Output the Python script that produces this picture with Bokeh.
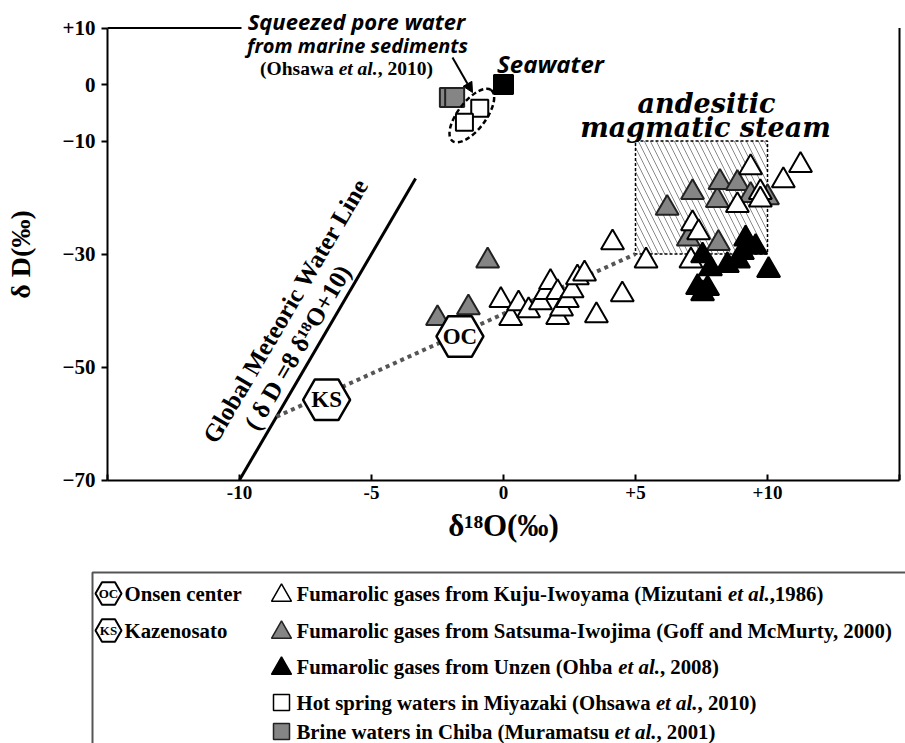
from bokeh.plotting import figure
from bokeh.models import Range1d, FixedTicker, Label, Arrow, NormalHead
from bokeh.embed import file_html
from bokeh.resources import INLINE
from bokeh.core.properties import value

# ---------------- data ----------------
kuju_x = [-0.1, 0.27, 0.57, 0.95, 1.4, 1.6, 1.78, 2.05, 2.05, 2.2, 2.42, 2.6, 2.8, 3.07,
          3.52, 4.13, 4.5, 5.4, 7.1, 7.16, 7.39, 8.86, 9.73, 9.73, 9.36, 10.6, 11.25]
kuju_y = [-38.2, -41.4, -38.8, -40.0, -38.6, -36.8, -35.0, -36.8, -41.2, -39.7, -38.2, -36.5, -34.2, -33.5,
          -40.9, -28.0, -37.2, -31.2, -31.2, -24.6, -26.2, -21.4, -19.1, -20.4, -14.7, -17.0, -14.3]
satsuma_x = [-2.5, -1.33, -0.6, 6.2, 7.0, 7.16, 8.1, 8.14, 8.2, 8.86, 9.36, 10.0]
satsuma_y = [-41.4, -39.5, -31.2, -21.9, -27.3, -19.1, -20.5, -28.1, -17.3, -17.5, -19.6, -20.0]
unzen_x = [7.54, 8.48, 7.84, 9.17, 9.55, 9.05, 8.9, 10.04, 7.35, 7.73, 7.54]
unzen_y = [-30.3, -32.0, -32.6, -27.3, -28.8, -29.7, -31.2, -32.9, -35.9, -36.1, -37.0]
miyazaki_x = [-0.9, -1.48]
miyazaki_y = [-4.2, -6.7]
chiba_x = [-2.05, -1.85]
chiba_y = [-2.3, -2.3]
seawater_x = [0.0]
seawater_y = [0.0]
site_x = [-1.65, -6.7]
site_y = [-44.6, -55.8]
site_codes = ["OC", "KS"]
site_names = ["Onsen center", "Kazenosato"]
mixing_x = [-8.6, 5.0]
mixing_y = [-58.8, -30.0]
gmwl_x = [-10.0, -3.33]
gmwl_y = [8 * v + 10 for v in gmwl_x]
steam_x = [5.0, 10.0]
steam_y = [-30.0, -10.0]
pore_center = (-1.2, -5.5)

x_lim = (-15, 15)
y_lim = (-70, 10)
x_ticks = [-15, -10, -5, 0, 5, 10, 15]
x_tick_labels = ["", "-10", "-5", "0", "+5", "+10", ""]
y_ticks = [10, 0, -10, -30, -50, -70]
y_tick_labels = ["+10", "0", "\u221210", "\u221230", "\u221250", "\u221270"]

# legend texts: (upright part, italic part, upright part)
legend_labels = [
    ("Fumarolic gases from Kuju-Iwoyama (Mizutani ", "et al.", ",1986)"),
    ("Fumarolic gases from Satsuma-Iwojima (Goff and McMurty, 2000)", "", ""),
    ("Fumarolic gases from Unzen (Ohba ", "et al.", ", 2008)"),
    ("Hot spring waters in Miyazaki (Ohsawa ", "et al.", ", 2010)"),
    ("Brine waters in Chiba (Muramatsu ", "et al.", ", 2001)"),
]
ref_label = ("(Ohsawa ", "et al.", ", 2010)")

SERIF = "Liberation Serif"
GRAY = "#858585"

# ---------------- text width helper (Liberation Serif metrics, per 1000 em) ----------------
_BOLD = dict(zip("abcdefghijklmnopqrstuvwxyz",
                 [500, 556, 444, 556, 444, 333, 500, 556, 278, 333, 556, 278, 833, 556, 500, 556,
                  556, 444, 389, 333, 556, 500, 722, 500, 500, 444]))
_BOLD.update(zip("ABCDEFGHIJKLMNOPQRSTUVWXYZ",
                 [722, 667, 722, 722, 667, 611, 778, 778, 389, 500, 778, 667, 944, 722, 778, 611,
                  778, 722, 556, 667, 722, 722, 1000, 722, 722, 667]))
_BOLD.update({c: 500 for c in "0123456789"})
_BOLD.update({" ": 250, "(": 333, ")": 333, ",": 250, ".": 250, "-": 333})
_BITAL = {"e": 444, "t": 278, " ": 250, "a": 500, "l": 278, ".": 250}


def text_w(s, size, italic=False):
    table = _BITAL if italic else _BOLD
    return sum(table.get(c, 500) for c in s) * size / 1000.0


# ---------------- canvas geometry (pixel -> data helpers for layout) ----------------
W, H = 905, 743
PX0, PXU = 503.0, 26.4     # pixel of x=0, pixels per x unit
PY0, PYU = 84.0, 5.65      # pixel of y=0, pixels per y unit


def X(px):
    return (px - PX0) / PXU


def Y(py):
    return (PY0 - py) / PYU


p = figure(width=W, height=H, x_range=Range1d(X(0), X(W)), y_range=Range1d(Y(H), Y(0)),
           output_backend="svg", toolbar_location=None, title=None,
           min_border=0, min_border_left=0, min_border_right=0,
           min_border_top=0, min_border_bottom=0)
p.grid.visible = False
p.outline_line_color = None
p.background_fill_color = "white"
p.border_fill_color = "white"

xa = p.xaxis[0]
xa.fixed_location = y_lim[0]
xa.bounds = x_lim
xa.ticker = FixedTicker(ticks=x_ticks)
xa.major_label_overrides = {t: l for t, l in zip(x_ticks, x_tick_labels)}
xa.major_tick_in = 6
xa.major_tick_out = 0
xa.minor_tick_line_color = None
xa.axis_line_width = 2
xa.major_tick_line_width = 2
xa.major_label_text_font = SERIF
xa.major_label_text_font_style = "bold"
xa.major_label_text_font_size = "19px"
xa.major_label_text_color = "black"
xa.major_label_standoff = 6
xa.axis_label = "\u03b4\u00b9\u2078O(\u2030)"
xa.axis_label_text_font = SERIF
xa.axis_label_text_font_style = "bold"
xa.axis_label_text_font_size = "31px"
xa.axis_label_text_color = "black"
xa.axis_label_standoff = 5

ya = p.yaxis[0]
ya.fixed_location = x_lim[0]
ya.bounds = y_lim
ya.ticker = FixedTicker(ticks=y_ticks)
ya.major_label_overrides = {t: l for t, l in zip(y_ticks, y_tick_labels)}
ya.major_tick_in = 0
ya.major_tick_out = 6
ya.minor_tick_line_color = None
ya.axis_line_width = 2
ya.major_tick_line_width = 2
ya.major_label_text_font = SERIF
ya.major_label_text_font_style = "bold"
ya.major_label_text_font_size = "21px"
ya.major_label_text_color = "black"
ya.major_label_standoff = 6
ya.axis_label = "\u03b4 D(\u2030)"
ya.axis_label_text_font = SERIF
ya.axis_label_text_font_style = "bold"
ya.axis_label_text_font_size = "28px"
ya.axis_label_text_color = "black"
ya.axis_label_standoff = 24

# remaining frame edges
p.line([x_lim[1], x_lim[1]], [y_lim[0], y_lim[1]], line_color="black", line_width=2)
p.line([x_lim[0], X(241)], [y_lim[1], y_lim[1]], line_color="black", line_width=2)

# andesitic magmatic steam box (hatched)
p.quad(left=[steam_x[0]], right=[steam_x[1]], bottom=[steam_y[0]], top=[steam_y[1]],
       fill_color=None, hatch_pattern="\\", hatch_color="#8a8a8a", hatch_scale=12,
       hatch_weight=1, line_color="black", line_dash="3 2", line_width=1.5)

# GMWL
p.line(gmwl_x, gmwl_y, line_color="black", line_width=3)

# mixing line
p.line(mixing_x, mixing_y, line_color="#555555", line_width=4, line_dash="4 4")

# triangles
p.scatter(satsuma_x, satsuma_y, marker="triangle", size=23, fill_color=GRAY,
          line_color="#222222", line_width=2)
p.scatter(kuju_x, kuju_y, marker="triangle", size=23, fill_color="white",
          line_color="black", line_width=2)
p.scatter(unzen_x, unzen_y, marker="triangle", size=23, fill_color="black",
          line_color="black", line_width=2)

# squares
p.scatter(chiba_x, chiba_y, marker="square", size=19, fill_color=GRAY,
          line_color="#222222", line_width=2)
p.scatter(miyazaki_x, miyazaki_y, marker="square", size=17, fill_color="white",
          line_color="black", line_width=2)
p.scatter(seawater_x, seawater_y, marker="square", size=19, fill_color="black",
          line_color="black", line_width=2)

# pore water ellipse
p.ellipse(x=[pore_center[0]], y=[pore_center[1]], width=64, height=28, angle=0.92,
          width_units="screen", height_units="screen", fill_color=None,
          line_color="black", line_dash="5 3", line_width=2.5)

# hexagon sites
p.scatter(site_x, site_y, marker="hex", size=47, fill_color="white",
          line_color="black", line_width=2.5)
p.text(site_x, site_y, text=site_codes, text_font=value(SERIF), text_font_style="bold",
       text_font_size="23px", text_align="center", text_baseline="middle", text_color="black")

# arrow
p.add_layout(Arrow(end=NormalHead(size=10, fill_color="black", line_color="black"),
                   x_start=X(452), y_start=Y(57), x_end=X(472), y_end=Y(92),
                   line_color="black", line_width=2))


def lab(px, py, t, font, size, style="bold", angle=0.0, align="center"):
    p.add_layout(Label(x=X(px), y=Y(py), text=t, text_font=font, text_font_size=size,
                       text_font_style=style, text_align=align, text_baseline="middle",
                       text_color="black", angle=angle, angle_units="deg"))


def mixed(px_left, py, parts, size):
    """Write (upright, italic, upright) pieces one after another, left aligned."""
    cur = px_left
    for i, part in enumerate(parts):
        if not part:
            continue
        ital = (i == 1)
        p.text([X(cur)], [Y(py)], text=[part], text_font=value(SERIF),
               text_font_style="bold italic" if ital else "bold",
               text_font_size=f"{size}px", text_align="left", text_baseline="middle",
               text_color="black")
        cur += text_w(part, size, ital)


lab(356, 20, "Squeezed pore water", "Open Sans", "22px", "bold italic")
lab(357, 45, "from marine sediments", "Open Sans", "20px", "bold italic")
ref_size = 19.5
ref_w = text_w(ref_label[0], ref_size) + text_w(ref_label[1], ref_size, True) + text_w(ref_label[2], ref_size)
mixed(346 - ref_w / 2, 68, ref_label, ref_size)
lab(550, 63, "Seawater", "Open Sans", "24px", "bold italic")
lab(706, 103, "andesitic", "DejaVu Serif", "27px", "bold italic")
lab(705, 127, "magmatic steam", "DejaVu Serif", "27px", "bold italic")
lab(285, 310, "Global Meteoric Water Line", SERIF, "25px", "bold", 59.6)
lab(297, 347, "( \u03b4 D =8 \u03b4\u00b9\u2078O+10)", SERIF, "25px", "bold", 59.6)

# ---------------- legend (below the axes) ----------------
p.quad(left=[X(92)], right=[X(W + 20)], top=[Y(572)], bottom=[Y(H + 20)], fill_color=None,
       line_color="#555555", line_width=2)

LEG_SIZE = 20.8
row_py = [593, 630, 666, 702, 731]
row_y = [Y(v) for v in row_py]
p.scatter([X(108)] * 2, row_y[:2], marker="hex", size=26, fill_color="white",
          line_color="black", line_width=2)
p.text([X(108)] * 2, row_y[:2], text=site_codes, text_font=value(SERIF), text_font_style="bold",
       text_font_size="13px", text_align="center", text_baseline="middle")
p.text([X(124)] * 2, row_y[:2], text=site_names, text_font=value(SERIF), text_font_style="bold",
       text_font_size=f"{LEG_SIZE}px", text_align="left", text_baseline="middle")

sym_x = X(281)
p.scatter([sym_x], [Y(row_py[0] + 2)], marker="triangle", size=20, fill_color="white",
          line_color="black", line_width=1.5)
p.scatter([sym_x], [Y(row_py[1] + 2)], marker="triangle", size=20, fill_color=GRAY,
          line_color="#222222", line_width=1.5)
p.scatter([sym_x], [Y(row_py[2] + 2)], marker="triangle", size=20, fill_color="black",
          line_color="black", line_width=1.5)
p.scatter([sym_x], [row_y[3]], marker="square", size=16, fill_color="white",
          line_color="black", line_width=1.5)
p.scatter([sym_x], [row_y[4]], marker="square", size=16, fill_color=GRAY,
          line_color="#222222", line_width=1.5)
for py, parts in zip(row_py, legend_labels):
    mixed(296, py, parts, LEG_SIZE)

open("out.html", "w").write(file_html(p, INLINE))
